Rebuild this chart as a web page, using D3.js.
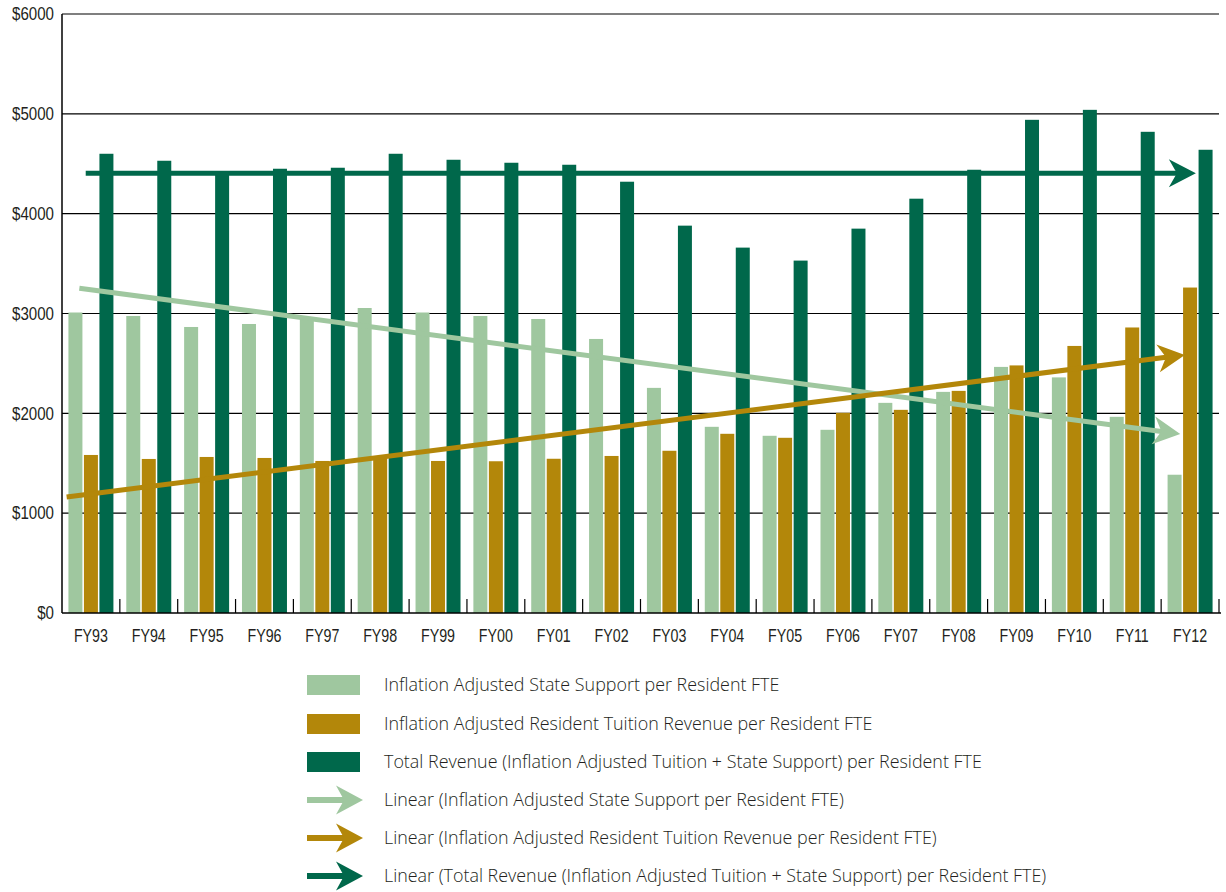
<!DOCTYPE html>
<html><head><meta charset="utf-8">
<script src="https://cdn.jsdelivr.net/npm/d3@7"></script>
<style>
html,body{margin:0;padding:0;background:#fff;}
svg{display:block;}
</style></head>
<body>
<svg id="chart" width="1226" height="892"></svg>
<script>
const categories = ["FY93","FY94","FY95","FY96","FY97","FY98","FY99","FY00","FY01","FY02","FY03","FY04","FY05","FY06","FY07","FY08","FY09","FY10","FY11","FY12"];
const stateSupport = [3010,2975,2865,2895,2955,3055,3010,2975,2945,2745,2255,1865,1775,1835,2105,2215,2465,2360,1965,1385];
const tuition = [1583,1543,1563,1553,1523,1570,1523,1520,1545,1573,1625,1795,1755,2005,2035,2225,2480,2675,2860,3260];
const totalRevenue = [4600,4530,4420,4450,4460,4600,4540,4510,4490,4320,3880,3660,3530,3850,4150,4440,4940,5040,4820,4640];
const yTicks = [0,1000,2000,3000,4000,5000,6000];
const seriesNames = [
  "Inflation Adjusted State Support per Resident FTE",
  "Inflation Adjusted Resident Tuition Revenue per Resident FTE",
  "Total Revenue (Inflation Adjusted Tuition + State Support) per Resident FTE"
];
const trendNames = [
  "Linear (Inflation Adjusted State Support per Resident FTE)",
  "Linear (Inflation Adjusted Resident Tuition Revenue per Resident FTE)",
  "Linear (Total Revenue (Inflation Adjusted Tuition + State Support) per Resident FTE)"
];
// trend line endpoints: [category index, value]
const trendState = [[-0.2, 3253],[18.83, 1794]];
const trendTuition = [[-0.42, 1162],[18.91, 2585]];
const trendTotal = [[-0.09, 4404],[19.1, 4404]];

const colors = ["#9fc79f","#b3870a","#00684b"];
const textColor = "#231f20";
const font = "'Liberation Sans',Arial,sans-serif";
const legendFont = "'Open Sans','Liberation Sans',Arial,sans-serif";

const svg = d3.select("#chart");
const L = 62, R = 1219, T = 14, B = 613;

const x = d3.scaleBand().domain(categories).range([L, R]).paddingInner(0).paddingOuter(0);
const xs = d3.scaleBand().domain([0,1,2]).range([0, x.bandwidth()]).paddingInner(0.097).paddingOuter(0.415);
const y = d3.scaleLinear().domain([0, 6000]).range([B, T]);
const xi = d3.scaleLinear().domain([0, categories.length - 1])
  .range([x(categories[0]) + x.bandwidth()/2, x(categories[categories.length-1]) + x.bandwidth()/2]);

// gridlines
svg.append("g").selectAll("line").data(yTicks.filter(d => d > 0)).join("line")
  .attr("x1", L).attr("x2", R).attr("y1", d => y(d)).attr("y2", d => y(d))
  .attr("stroke", "#000").attr("stroke-width", 1.2);

// y labels (condensed)
svg.append("g").selectAll("text").data(yTicks).join("text")
  .attr("transform", d => `translate(54,${y(d)}) scale(0.84,1)`)
  .attr("dy", "0.35em")
  .attr("text-anchor", "end").attr("font-family", font).attr("font-size", 18)
  .attr("fill", textColor).text(d => "$" + d);

// bars
const series = [stateSupport, tuition, totalRevenue];
series.forEach((vals, si) => {
  svg.append("g").selectAll("rect").data(vals).join("rect")
    .attr("x", (d, i) => x(categories[i]) + xs(si))
    .attr("width", xs.bandwidth())
    .attr("y", d => y(d))
    .attr("height", d => y(0) - y(d))
    .attr("fill", colors[si]);
});

// axes lines
svg.append("line").attr("x1", L).attr("x2", L).attr("y1", T).attr("y2", B)
  .attr("stroke", "#000").attr("stroke-width", 1.5);
svg.append("line").attr("x1", L).attr("x2", R + 2).attr("y1", B).attr("y2", B)
  .attr("stroke", "#000").attr("stroke-width", 1.5);
// x ticks at boundaries
svg.append("g").selectAll("line").data(d3.range(1, categories.length + 1)).join("line")
  .attr("x1", i => L + i * x.bandwidth()).attr("x2", i => L + i * x.bandwidth())
  .attr("y1", B).attr("y2", B - 14).attr("stroke", "#000").attr("stroke-width", 1.2);

// x labels (condensed)
svg.append("g").selectAll("text").data(categories).join("text")
  .attr("transform", d => `translate(${x(d) + x.bandwidth()/2},635) scale(0.75,1)`)
  .attr("dy", "0.36em")
  .attr("text-anchor", "middle").attr("font-family", font).attr("font-size", 19)
  .attr("fill", textColor).text(d => d);

// arrow helper
function arrow(g, x1, y1, x2, y2, color, w, len, half, notch) {
  const ang = Math.atan2(y2 - y1, x2 - x1);
  const c = Math.cos(ang), s = Math.sin(ang);
  const bx = x2 - (len - notch) * c, by = y2 - (len - notch) * s;
  g.append("line").attr("x1", x1).attr("y1", y1).attr("x2", bx + 2*c).attr("y2", by + 2*s)
    .attr("stroke", color).attr("stroke-width", w);
  const p = (dx, dy) => [x2 + dx * c - dy * s, y2 + dx * s + dy * c];
  const pts = [p(0,0), p(-len, -half), p(-(len - notch), 0), p(-len, half)];
  g.append("path").attr("d", "M" + pts.map(q => q.join(",")).join("L") + "Z").attr("fill", color);
}

const trends = [trendState, trendTuition, trendTotal];
const tg = svg.append("g");
trends.forEach((t, k) => {
  arrow(tg, xi(t[0][0]), y(t[0][1]), xi(t[1][0]), y(t[1][1]), colors[k], 5, 27, 14, 8);
});

// legend
const lg = svg.append("g");
const rowY = [685, 724, 762, 800, 838, 876];
seriesNames.forEach((n, k) => {
  lg.append("rect").attr("x", 307).attr("y", rowY[k] - 10).attr("width", 53).attr("height", 20).attr("fill", colors[k]);
  lg.append("text").attr("x", 384).attr("y", rowY[k]).attr("dy", "0.35em")
    .attr("font-family", legendFont).attr("font-weight", 300).attr("font-size", 17.9).attr("fill", textColor).text(n);
});
trendNames.forEach((n, k) => {
  const yy = rowY[k + 3];
  arrow(lg, 307, yy, 363, yy, colors[k], 6, 27, 14.5, 8);
  lg.append("text").attr("x", 384).attr("y", yy).attr("dy", "0.35em")
    .attr("font-family", legendFont).attr("font-weight", 300).attr("font-size", 17.9).attr("fill", textColor).text(n);
});
</script>
</body></html>
